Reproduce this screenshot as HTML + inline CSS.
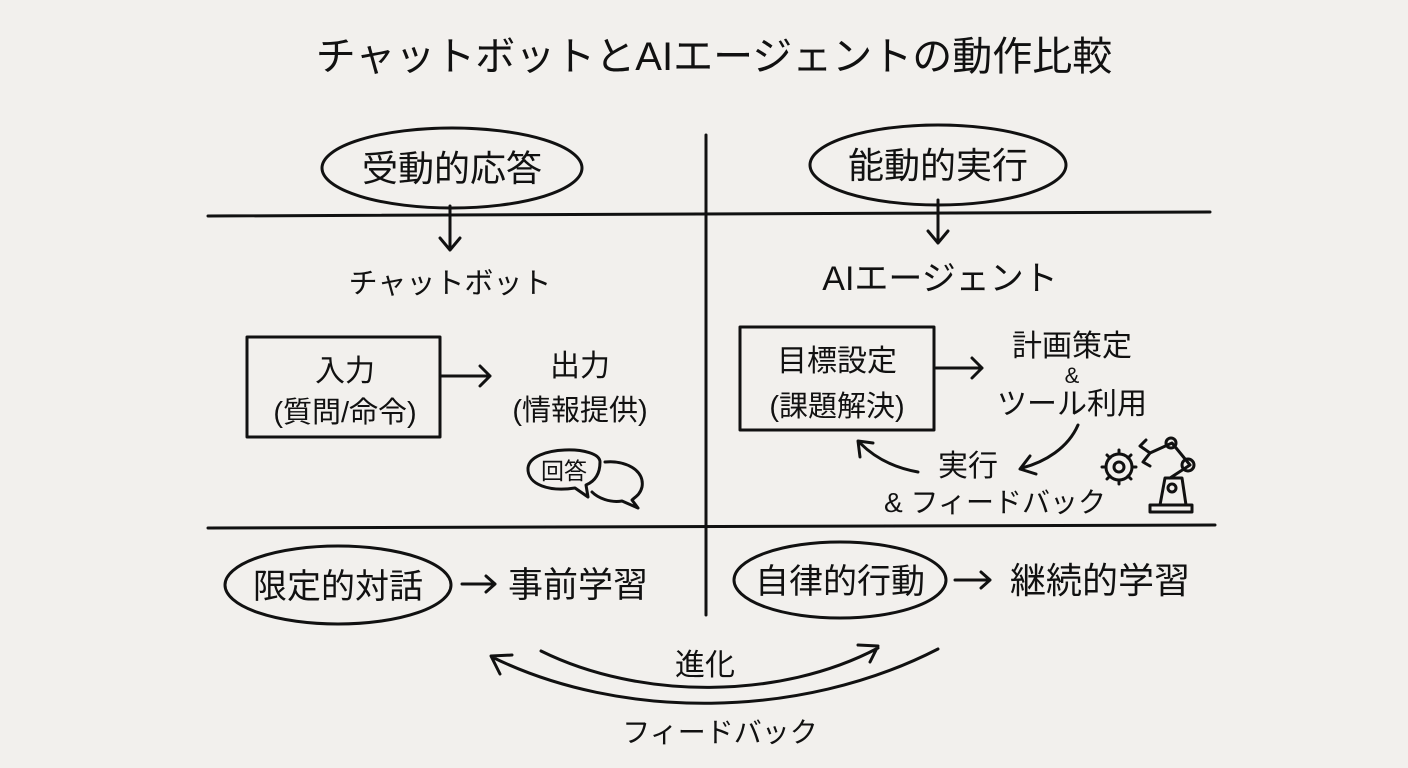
<!DOCTYPE html>
<html><head><meta charset="utf-8"><style>
html,body{margin:0;padding:0;background:#f2f0ed;}
svg{display:block}
text{font-family:"Liberation Sans","Noto Sans CJK JP",sans-serif;fill:#111;text-anchor:middle;}
.l{fill:none;stroke:#111;stroke-width:3;stroke-linecap:round;stroke-linejoin:round}
</style></head><body>
<svg width="1408" height="768" viewBox="0 0 1408 768">
<rect width="1408" height="768" fill="#f2f0ed"/>
<text x="714" y="70" font-size="40">チャットボットとAIエージェントの動作比較</text>
<path class="l" d="M706 135 L706 615"/>
<path class="l" d="M208 216 L1210 212"/>
<path class="l" d="M208 528 L1215 525"/>
<ellipse class="l" cx="452" cy="168" rx="130" ry="40"/>
<text x="452" y="181" font-size="36">受動的応答</text>
<ellipse class="l" cx="938" cy="165" rx="128" ry="40"/>
<text x="938" y="178" font-size="36">能動的実行</text>
<path class="l" d="M450 206 L450 250 M440 238 L450 250 L460 238"/>
<path class="l" d="M938 200 L938 243 M928 231 L938 243 L948 231"/>
<text x="450" y="293" font-size="29">チャットボット</text>
<text x="940" y="290" font-size="34">AIエージェント</text>
<rect class="l" x="247" y="337" width="193" height="100"/>
<text x="345" y="381" font-size="30">入力</text>
<text x="345" y="422" font-size="29">(質問/命令)</text>
<path class="l" d="M441 376 L490 376 M480 366 L490 376 L480 386"/>
<text x="580" y="376" font-size="30">出力</text>
<text x="580" y="420" font-size="29">(情報提供)</text>
<path class="l" d="M600 462 C600 445 530 445 528 468 C527 485 550 492 575 488 L588 497 L586 485 C598 480 600 470 600 462 Z"/>
<path class="l" d="M605 462 C625 460 645 470 642 487 C640 495 635 497 632 500 L638 508 L622 501 C610 503 598 498 592 492"/>
<text x="564" y="479" font-size="23">回答</text>
<rect class="l" x="740" y="327" width="194" height="103"/>
<text x="837" y="371" font-size="30">目標設定</text>
<text x="837" y="416" font-size="29">(課題解決)</text>
<path class="l" d="M936 368 L982 368 M972 358 L982 368 L972 378"/>
<text x="1072" y="356" font-size="30">計画策定</text>
<text x="1072" y="383" font-size="22">&amp;</text>
<text x="1072" y="414" font-size="30">ツール利用</text>
<path class="l" d="M1078 425 C1068 448 1045 462 1022 468 M1030 456 L1020 469 L1036 474"/>
<text x="968" y="476" font-size="30">実行</text>
<text x="995" y="512" font-size="28">&amp; フィードバック</text>
<path class="l" d="M918 472 C895 468 875 458 860 443 M860 457 L858 441 L873 443"/>
<g class="l" stroke-width="2.5">
<circle cx="1119" cy="467" r="13"/>
<circle cx="1119" cy="467" r="5"/>
<path d="M1119 450 L1119 454 M1119 480 L1119 484 M1102 467 L1106 467 M1132 467 L1136 467 M1107 455 L1110 458 M1128 476 L1131 479 M1107 479 L1110 476 M1128 458 L1131 455"/>
<path d="M1150 512 L1192 512 L1192 505 L1150 505 Z M1160 505 L1165 478 L1182 478 L1186 505"/>
<circle cx="1172" cy="488" r="4"/>
<path d="M1170 478 L1190 465 L1172 443 L1150 453"/>
<circle cx="1188" cy="465" r="6"/>
<circle cx="1171" cy="443" r="5"/>
<path d="M1150 453 L1140 446 L1146 440 M1150 453 L1143 462 L1150 466"/>
</g>
<ellipse class="l" cx="338" cy="585" rx="113" ry="39"/>
<text x="338" y="598" font-size="34">限定的対話</text>
<path class="l" d="M462 584 L495 584 M486 576 L495 584 L486 592"/>
<text x="578" y="597" font-size="35">事前学習</text>
<ellipse class="l" cx="840" cy="580" rx="106" ry="38"/>
<text x="840" y="593" font-size="34">自律的行動</text>
<path class="l" d="M955 580 L990 580 M981 572 L990 580 L981 588"/>
<text x="1100" y="593" font-size="36">継続的学習</text>
<path class="l" d="M541 651 C640 700 780 700 878 648 M858 645 L878 646 L870 662"/>
<path class="l" d="M938 649 C800 720 620 720 492 657 M512 655 L491 656 L500 674"/>
<text x="705" y="675" font-size="30">進化</text>
<text x="720" y="742" font-size="28">フィードバック</text>
</svg>
</body></html>
